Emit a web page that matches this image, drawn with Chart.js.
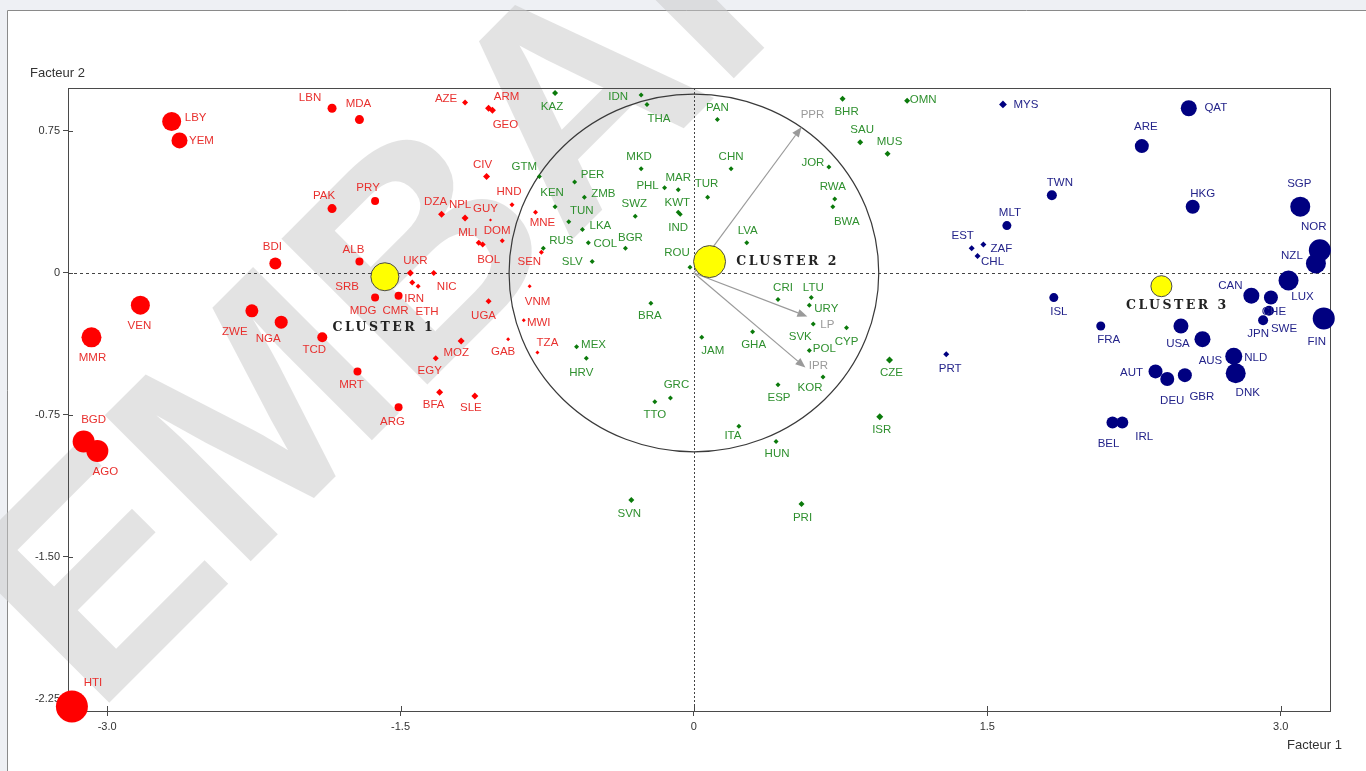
<!DOCTYPE html>
<html>
<head>
<meta charset="utf-8">
<title>Typologie des pays - plan factoriel</title>
<script src="https://cdn.jsdelivr.net/npm/chart.js@4.4.1/dist/chart.umd.min.js"></script>
<style>
  html, body { margin: 0; padding: 0; background: #eef0f4; overflow: hidden; }
  canvas { display: block; }
</style>
</head>
<body>
<canvas id="plan" width="1366" height="771"></canvas>
<script>
// ---- Axis ticks ----
const xTickValues = [-3.0, -1.5, 0, 1.5, 3.0];
const xTickLabels = ["-3.0", "-1.5", "0", "1.5", "3.0"];
const yTickValues = [0.75, 0, -0.75, -1.5, -2.25];
const yTickLabels = ["0.75", "0", "-0.75", "-1.50", "-2.25"];

// ---- Cluster 1 (red) ----
const codes1 = ["LBY","YEM","LBN","MDA","PAK","PRY","BDI","ALB","AZE","ARM","GEO","CIV","HND","DZA","NPL","GUY","MLI","BOL","DOM","MNE","SEN","UKR","NIC","IRN","ETH","CMR","MDG","SRB","UGA","VNM","MWI","TZA","GAB","MOZ","EGY","BFA","SLE","ARG","MRT","TCD","NGA","ZWE","VEN","MMR","BGD","AGO","HTI"];
const x1 = [-2.67,-2.63,-1.85,-1.71,-1.85,-1.63,-2.14,-1.71,-1.17,-1.05,-1.03,-1.06,-0.93,-1.29,-1.17,-1.04,-1.10,-1.08,-0.98,-0.81,-0.78,-1.45,-1.33,-1.44,-1.41,-1.51,-1.63,-1.62,-1.05,-0.84,-0.87,-0.80,-0.95,-1.19,-1.32,-1.30,-1.12,-1.51,-1.72,-1.90,-2.11,-2.26,-2.83,-3.08,-3.12,-3.05,-3.18];
const y1 = [0.80,0.70,0.87,0.81,0.34,0.38,0.05,0.06,0.90,0.87,0.86,0.51,0.36,0.31,0.29,0.28,0.16,0.15,0.17,0.32,0.11,0.00,0.00,-0.05,-0.07,-0.12,-0.13,-0.04,-0.15,-0.07,-0.25,-0.42,-0.35,-0.36,-0.45,-0.63,-0.65,-0.71,-0.52,-0.34,-0.26,-0.20,-0.17,-0.34,-0.89,-0.94,-2.29];
const size1 = [9.5,8,4.5,4.5,4.5,4,6,4,3,3.5,3.5,3.5,2.5,3.5,3.5,1.5,3,3,2.5,2.5,2.5,3.5,3,3,2.5,4,4,3,3,2,2,2,2,3.5,3,3.5,3.5,4,4,5,6.5,6.5,9.5,10,11,11,16];

// ---- Cluster 2 (green) ----
const codes2 = ["KAZ","IDN","THA","GTM","KEN","PER","ZMB","MKD","PHL","MAR","TUR","SWZ","KWT","IND","TUN","LKA","COL","BGR","RUS","SLV","ROU","PAN","CHN","LVA","JOR","RWA","BWA","BHR","SAU","MUS","OMN","BRA","MEX","HRV","GRC","TTO","JAM","CRI","LTU","URY","SVK","CYP","GHA","POL","KOR","ESP","ITA","HUN","CZE","ISR","SVN","PRI"];
const x2 = [-0.71,-0.27,-0.24,-0.79,-0.71,-0.61,-0.56,-0.27,-0.15,-0.08,0.07,-0.30,-0.08,-0.07,-0.64,-0.57,-0.54,-0.35,-0.77,-0.52,-0.02,0.12,0.19,0.27,0.69,0.72,0.71,0.76,0.85,0.99,1.09,-0.22,-0.60,-0.55,-0.12,-0.20,0.04,0.43,0.60,0.59,0.61,0.78,0.30,0.59,0.66,0.43,0.23,0.42,1.00,0.95,-0.32,0.55];
const y2 = [0.95,0.94,0.89,0.51,0.35,0.48,0.40,0.55,0.45,0.44,0.40,0.30,0.32,0.31,0.27,0.23,0.16,0.13,0.13,0.06,0.03,0.81,0.55,0.16,0.56,0.39,0.35,0.92,0.69,0.63,0.91,-0.16,-0.39,-0.45,-0.66,-0.68,-0.34,-0.14,-0.13,-0.17,-0.27,-0.29,-0.31,-0.41,-0.55,-0.59,-0.81,-0.89,-0.46,-0.76,-1.20,-1.22];
const size2 = [3,2.5,2.5,2.5,2.5,2.5,2.5,2.5,2.5,2.5,2.5,2.5,2.5,2.5,2.5,2.5,2.5,2.5,2.5,2.5,2.5,2.5,2.5,2.5,2.5,2.5,2.5,3,3,3,3,2.5,2.5,2.5,2.5,2.5,2.5,2.5,2.5,2.5,2.5,2.5,2.5,2.5,2.5,2.5,2.5,2.5,3.5,3.5,3,3];

// ---- Cluster 3 (blue) ----
const codes3 = ["MYS","QAT","ARE","TWN","HKG","SGP","NOR","NZL","LUX","MLT","EST","ZAF","CHL","ISL","FRA","USA","AUS","NLD","DNK","AUT","DEU","GBR","BEL","IRL","PRT","CAN","CHE","SWE","JPN","FIN"];
const x3 = [1.58,2.53,2.29,1.83,2.55,3.10,3.20,3.18,3.04,1.60,1.42,1.48,1.45,1.84,2.08,2.49,2.60,2.76,2.77,2.36,2.42,2.51,2.14,2.19,1.29,2.85,2.95,2.94,2.91,3.22];
const y3 = [0.89,0.87,0.67,0.41,0.35,0.35,0.12,0.05,-0.04,0.25,0.13,0.15,0.09,-0.13,-0.28,-0.28,-0.35,-0.44,-0.53,-0.52,-0.56,-0.54,-0.79,-0.79,-0.43,-0.12,-0.13,-0.20,-0.25,-0.24];
const size3 = [3.9,8,7,5,7,10,11,10,10,4.5,3,3,3,4.5,4.5,7.5,8,8.5,10,7,7,7,6,6,3,8,7,5,5,11];

// ---- Cluster centres ----
const centreNames = ["CLUSTER 1", "CLUSTER 2", "CLUSTER 3"];
const centreX = [-1.58, 0.08, 2.39];
const centreY = [-0.02, 0.06, -0.07];
const centreSize = [14, 16, 10.5];

// ---- Supplementary variables (arrows from origin) ----
const varNames = ["PPR", "LP", "IPR"];
const varX = [0.55, 0.58, 0.57];
const varY = [0.77, -0.23, -0.50];
const circleRadius = 0.945;

// Label placement relative to each marker, in pixels [dx, dy]
const labelPlacement = {
  LBY:[24,-4], YEM:[22,0], LBN:[-22,-10], MDA:[-1,-16], PAK:[-8,-13], PRY:[-7,-13], BDI:[-3,-17], ALB:[-6,-12],
  AZE:[-19,-4], ARM:[18,-11], GEO:[13,15], CIV:[-4,-12], HND:[-3,-13], DZA:[-6,-12], NPL:[-5,-13], GUY:[-5,-11],
  MLI:[-11,-10], BOL:[6,15], DOM:[-5,-10], MNE:[7,10], SEN:[-12,10], UKR:[5,-12], NIC:[13,14], IRN:[2,16],
  ETH:[9,26], CMR:[-3,15], MDG:[-12,13], SRB:[-30,6], UGA:[-5,14], VNM:[8,16], MWI:[15,3], TZA:[10,-10],
  GAB:[-5,13], MOZ:[-5,12], EGY:[-6,13], BFA:[-6,13], SLE:[-4,12], ARG:[-6,14], MRT:[-6,13], TCD:[-8,13],
  NGA:[-13,17], ZWE:[-17,21], VEN:[-1,21], MMR:[1,21], BGD:[10,-22], AGO:[8,21], HTI:[21,-24],
  KAZ:[-3,14], IDN:[-23,2], THA:[12,14], GTM:[-15,-10], KEN:[-3,-14], PER:[18,-7], ZMB:[19,-3], MKD:[-2,-12],
  PHL:[-17,-2], MAR:[0,-12], TUR:[-1,-13], SWZ:[-1,-12], KWT:[-1,-10], IND:[-2,14], TUN:[13,-11], LKA:[18,-4],
  COL:[17,1], BGR:[5,-11], RUS:[18,-8], SLV:[-20,0], ROU:[-13,-14], PAN:[0,-12], CHN:[0,-12], LVA:[1,-12],
  JOR:[-16,-4], RWA:[-2,-12], BWA:[14,15], BHR:[4,13], SAU:[2,-13], MUS:[2,-12], OMN:[16,-1], BRA:[-1,13],
  MEX:[17,-2], HRV:[-5,15], GRC:[6,-13], TTO:[0,13], JAM:[11,14], CRI:[5,-12], LTU:[2,-10], URY:[17,4],
  SVK:[-13,13], CYP:[0,14], GHA:[1,13], POL:[15,-2], KOR:[-13,11], ESP:[1,13], ITA:[-6,10], HUN:[1,12],
  CZE:[2,13], ISR:[2,13], SVN:[-2,14], PRI:[1,14],
  MYS:[23,0], QAT:[27,0], ARE:[4,-19], TWN:[8,-13], HKG:[10,-13], SGP:[-1,-23], NOR:[-6,-23], NZL:[-24,-8],
  LUX:[14,16], MLT:[3,-13], EST:[-9,-13], ZAF:[18,4], CHL:[15,6], ISL:[5,14], FRA:[8,14], USA:[-3,18],
  AUS:[8,22], NLD:[22,2], DNK:[12,20], AUT:[-24,1], DEU:[5,22], GBR:[17,22], BEL:[-4,21], IRL:[22,14],
  PRT:[4,14], CAN:[-21,-10], CHE:[3,14], SWE:[15,18], JPN:[-5,14], FIN:[-7,23]
};
const centreLabelPlacement = [[-1, 51], [78, 0], [16, 20]];
const varLabelPlacement = [[11, -12], [20, 8], [13, -2]];

const LABEL_FONT = '11.5px "Liberation Sans", Arial, sans-serif';
const AXIS_FONT_FAMILY = '"Liberation Sans", Arial, sans-serif';

function points(xs, ys) { return xs.map((x, i) => ({ x: x, y: ys[i] })); }
function markerStyle(sizes) { return (c) => (sizes[c.dataIndex] < 4 ? 'rectRot' : 'circle'); }

const decor = {
  id: 'decor',
  beforeDraw(chart) {
    const { ctx, width, height } = chart;
    ctx.save();
    ctx.fillStyle = '#eef0f4';
    ctx.fillRect(0, 0, width, height);
    ctx.fillStyle = '#ffffff';
    ctx.fillRect(7, 10, width - 7, height - 10);
    ctx.strokeStyle = '#8a8a8a';
    ctx.lineWidth = 1;
    ctx.beginPath();
    ctx.moveTo(7.5, height); ctx.lineTo(7.5, 10.5); ctx.lineTo(width, 10.5);
    ctx.stroke();
    // diagonal watermark
    ctx.translate(95, 717);
    ctx.rotate(-Math.PI / 4);
    ctx.font = 'bold 300px "Liberation Sans", Arial, sans-serif';
    ctx.fillStyle = 'rgba(200,200,200,0.5)';
    ctx.textBaseline = 'alphabetic';
    ctx.fillText('EMBARGO', 0, 0);
    ctx.restore();
  },
  beforeDatasetsDraw(chart) {
    const { ctx, chartArea: a, scales: { x, y } } = chart;
    const ox = x.getPixelForValue(0), oy = y.getPixelForValue(0);
    ctx.save();
    // plot frame
    ctx.strokeStyle = '#4a4a4a';
    ctx.lineWidth = 1;
    ctx.strokeRect(Math.round(a.left) + 0.5, Math.round(a.top) + 0.5, Math.round(a.right - a.left), Math.round(a.bottom - a.top));
    // inner halves of tick marks
    ctx.beginPath();
    xTickValues.forEach(v => { const px = Math.round(x.getPixelForValue(v)) + 0.5; ctx.moveTo(px, a.bottom - 5); ctx.lineTo(px, a.bottom); });
    yTickValues.forEach(v => { const py = Math.round(y.getPixelForValue(v)) + 0.5; ctx.moveTo(a.left, py); ctx.lineTo(a.left + 5, py); });
    ctx.stroke();
    // zero lines
    ctx.strokeStyle = '#444';
    ctx.setLineDash([3, 3]);
    ctx.beginPath();
    ctx.moveTo(a.left, Math.round(oy) + 0.5); ctx.lineTo(a.right, Math.round(oy) + 0.5);
    ctx.stroke();
    ctx.setLineDash([2, 2]);
    ctx.beginPath();
    ctx.moveTo(Math.round(ox) + 0.5, a.top); ctx.lineTo(Math.round(ox) + 0.5, a.bottom);
    ctx.stroke();
    ctx.setLineDash([]);
    // correlation circle
    const rx = x.getPixelForValue(circleRadius) - ox;
    const ry = oy - y.getPixelForValue(circleRadius);
    ctx.strokeStyle = '#3a3a3a';
    ctx.lineWidth = 1.2;
    ctx.beginPath();
    ctx.ellipse(ox, oy, rx, ry, 0, 0, Math.PI * 2);
    ctx.stroke();
    // variable arrows
    ctx.strokeStyle = '#9a9a9a';
    ctx.fillStyle = '#9a9a9a';
    ctx.lineWidth = 1.2;
    varNames.forEach((n, i) => {
      const tx = x.getPixelForValue(varX[i]), ty = y.getPixelForValue(varY[i]);
      const ang = Math.atan2(ty - oy, tx - ox);
      const hl = 10, hw = 4;
      const bx = tx - hl * Math.cos(ang), by = ty - hl * Math.sin(ang);
      ctx.beginPath();
      ctx.moveTo(ox, oy); ctx.lineTo(bx, by);
      ctx.stroke();
      ctx.beginPath();
      ctx.moveTo(tx, ty);
      ctx.lineTo(bx + hw * Math.sin(ang), by - hw * Math.cos(ang));
      ctx.lineTo(bx - hw * Math.sin(ang), by + hw * Math.cos(ang));
      ctx.closePath();
      ctx.fill();
    });
    ctx.restore();
  },
  afterDatasetsDraw(chart) {
    const { ctx, scales: { x, y } } = chart;
    ctx.save();
    ctx.font = LABEL_FONT;
    ctx.textAlign = 'center';
    ctx.textBaseline = 'middle';
    const groups = [[1, codes1, '#e8302e'], [2, codes2, '#2f902f'], [3, codes3, '#24248a']];
    groups.forEach(([ds, codes, col]) => {
      ctx.fillStyle = col;
      chart.getDatasetMeta(ds).data.forEach((pt, i) => {
        const off = labelPlacement[codes[i]] || [0, -12];
        ctx.fillText(codes[i], pt.x + off[0], pt.y + off[1]);
      });
    });
    // variable names
    ctx.fillStyle = '#9a9a9a';
    varNames.forEach((n, i) => {
      const off = varLabelPlacement[i];
      ctx.fillText(n, x.getPixelForValue(varX[i]) + off[0], y.getPixelForValue(varY[i]) + off[1]);
    });
    // cluster names
    ctx.font = 'bold 12.5px "DejaVu Serif", "Liberation Serif", serif';
    ctx.fillStyle = '#222';
    try { ctx.letterSpacing = '2.5px'; } catch (e) {}
    chart.getDatasetMeta(0).data.forEach((pt, i) => {
      const off = centreLabelPlacement[i];
      ctx.fillText(centreNames[i], pt.x + off[0], pt.y + off[1]);
    });
    ctx.restore();
  },
  afterDraw(chart) {
    const { ctx } = chart;
    ctx.save();
    ctx.font = '13px ' + AXIS_FONT_FAMILY;
    ctx.fillStyle = '#333';
    ctx.textBaseline = 'middle';
    ctx.textAlign = 'left';
    ctx.fillText('Facteur 2', 30, 73);
    ctx.fillText('Facteur 1', 1287, 745);
    ctx.restore();
  }
};

new Chart(document.getElementById('plan').getContext('2d'), {
  type: 'scatter',
  data: {
    datasets: [
      {
        label: 'Centres',
        data: points(centreX, centreY),
        pointRadius: centreSize,
        pointHoverRadius: centreSize,
        pointBackgroundColor: '#ffff00',
        pointBorderColor: '#4a4a4a',
        pointBorderWidth: 1,
        clip: false
      },
      {
        label: 'Cluster 1',
        data: points(x1, y1),
        pointRadius: size1,
        pointHoverRadius: size1,
        pointStyle: markerStyle(size1),
        pointBackgroundColor: '#ff0000',
        pointBorderWidth: 0,
        clip: false
      },
      {
        label: 'Cluster 2',
        data: points(x2, y2),
        pointRadius: size2,
        pointHoverRadius: size2,
        pointStyle: markerStyle(size2),
        pointBackgroundColor: '#0b7a0b',
        pointBorderWidth: 0,
        clip: false
      },
      {
        label: 'Cluster 3',
        data: points(x3, y3),
        pointRadius: size3,
        pointHoverRadius: size3,
        pointStyle: markerStyle(size3),
        pointBackgroundColor: '#000080',
        pointBorderWidth: 0,
        clip: false
      }
    ]
  },
  options: {
    responsive: false,
    animation: false,
    events: [],
    layout: { padding: { left: 0, right: 36, top: 88, bottom: 0 } },
    plugins: { legend: { display: false }, tooltip: { enabled: false } },
    scales: {
      x: {
        type: 'linear',
        min: -3.2,
        max: 3.252,
        afterFit: (s) => { s.height = 60; },
        afterBuildTicks: (s) => { s.ticks = xTickValues.map(v => ({ value: v })); },
        ticks: {
          callback: (v) => xTickLabels[xTickValues.indexOf(v)],
          font: { family: AXIS_FONT_FAMILY, size: 11 },
          color: '#333',
          padding: 4,
          maxRotation: 0,
          autoSkip: false
        },
        grid: { drawOnChartArea: false, tickLength: 5, color: '#4a4a4a' },
        border: { color: '#4a4a4a', width: 1 }
      },
      y: {
        type: 'linear',
        min: -2.314,
        max: 0.977,
        afterFit: (s) => { s.width = 68; },
        afterBuildTicks: (s) => { s.ticks = yTickValues.map(v => ({ value: v })); },
        ticks: {
          callback: (v) => yTickLabels[yTickValues.indexOf(v)],
          font: { family: AXIS_FONT_FAMILY, size: 11 },
          color: '#333',
          padding: 3,
          autoSkip: false
        },
        grid: { drawOnChartArea: false, tickLength: 5, color: '#4a4a4a' },
        border: { color: '#4a4a4a', width: 1 }
      }
    }
  },
  plugins: [decor]
});
</script>
</body>
</html>
